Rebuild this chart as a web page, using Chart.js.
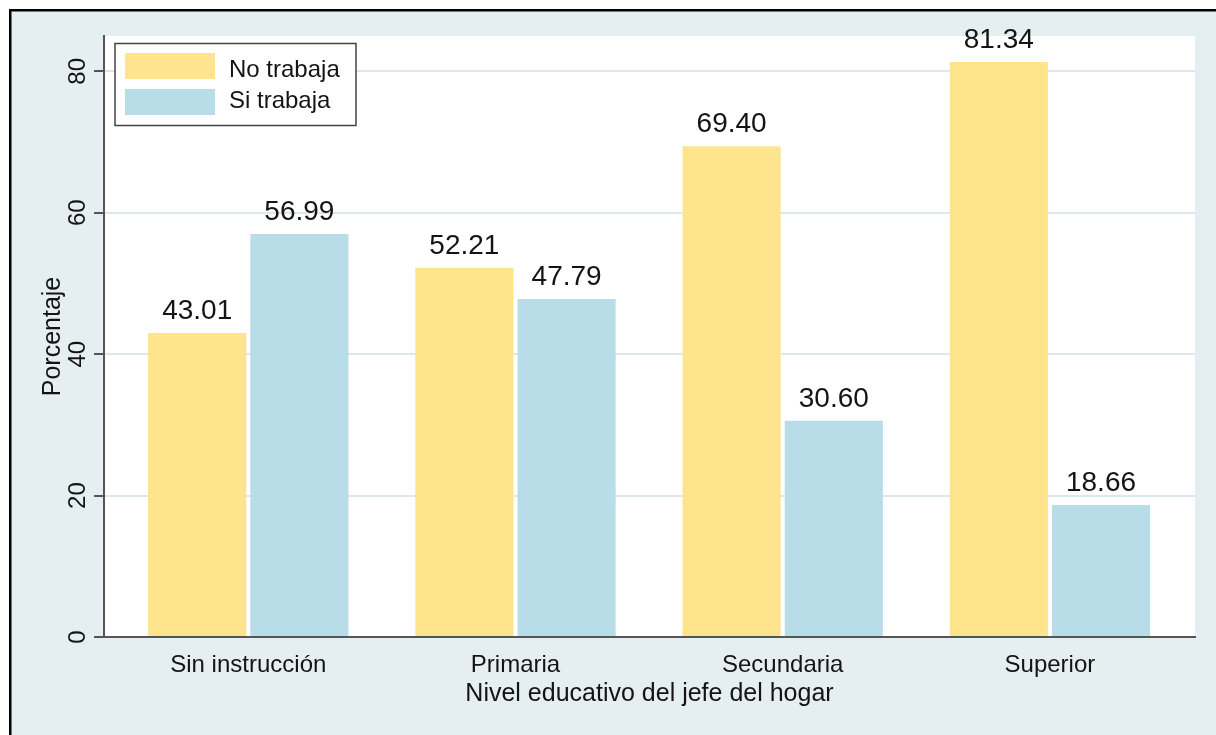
<!DOCTYPE html>
<html>
<head>
<meta charset="utf-8">
<script src="https://cdn.jsdelivr.net/npm/chart.js@4/dist/chart.umd.min.js"></script>
<style>
  body { margin: 0; background: #fff; }
  canvas { display: block; }
</style>
</head>
<body>
<canvas id="chart" width="1216" height="735"></canvas>
<script>
const categories = ['Sin instrucción', 'Primaria', 'Secundaria', 'Superior'];
const seriesNames = ['No trabaja', 'Si trabaja'];
const noTrabaja = [43.01, 52.21, 69.40, 81.34];
const siTrabaja = [56.99, 47.79, 30.60, 18.66];
const yTicks = [0, 20, 40, 60, 80];

const font = 'Liberation Sans, Arial, Helvetica, sans-serif';
const textColor = '#141414';
const axisColor = '#555';
const bgColor = '#e5eef0';
const gridColor = '#dde8ec';
const barColors = ['#fee48c', '#b8dce8'];

// outer frame, light backdrop and white plot region
const backdrop = {
  id: 'backdrop',
  beforeDraw (chart) {
    const ctx = chart.ctx;
    const a = chart.chartArea;
    ctx.save();
    ctx.fillStyle = '#fff';
    ctx.fillRect(0, 0, chart.width, chart.height);
    ctx.fillStyle = bgColor;
    ctx.fillRect(11, 11, chart.width, chart.height);
    ctx.fillStyle = '#000';
    ctx.fillRect(9, 9, chart.width, 2.5);
    ctx.fillRect(9, 9, 2.5, chart.height);
    ctx.fillStyle = '#fff';
    ctx.fillRect(a.left, a.top, a.right - a.left, a.bottom - a.top);
    ctx.restore();
  }
};

// rotated y tick labels, value labels and the boxed legend
const extras = {
  id: 'extras',
  afterDraw (chart) {
    const ctx = chart.ctx;
    const y = chart.scales.y;
    ctx.save();
    ctx.fillStyle = textColor;
    ctx.font = '24px ' + font;
    ctx.textAlign = 'center';
    ctx.textBaseline = 'alphabetic';
    y.ticks.forEach(t => {
      const py = y.getPixelForValue(t.value);
      ctx.save();
      ctx.translate(85, py);
      ctx.rotate(-Math.PI / 2);
      ctx.fillText(String(t.value), 0, 0);
      ctx.restore();
    });

    // values above bars
    ctx.font = '28px ' + font;
    chart.data.datasets.forEach((ds, i) => {
      const meta = chart.getDatasetMeta(i);
      meta.data.forEach((bar, j) => {
        ctx.fillText(ds.data[j].y.toFixed(2), bar.x, bar.y - 14);
      });
    });

    // legend
    ctx.fillStyle = '#fff';
    ctx.fillRect(115, 43, 241, 82);
    ctx.strokeStyle = '#444';
    ctx.lineWidth = 1.5;
    ctx.strokeRect(115, 43.5, 241, 82);
    ctx.font = '24px ' + font;
    ctx.textAlign = 'left';
    chart.data.datasets.forEach((ds, i) => {
      const top = 53 + i * 36;
      ctx.fillStyle = ds.backgroundColor;
      ctx.fillRect(125, top, 90, 26);
      ctx.fillStyle = textColor;
      ctx.fillText(ds.label, 229, [77, 108][i]);
    });
    ctx.restore();
  }
};

new Chart(document.getElementById('chart'), {
  type: 'bar',
  data: {
    datasets: [
      { label: seriesNames[0], data: noTrabaja.map((v, i) => ({x: i, y: v})), backgroundColor: barColors[0] },
      { label: seriesNames[1], data: siTrabaja.map((v, i) => ({x: i, y: v})), backgroundColor: barColors[1] }
    ]
  },
  plugins: [backdrop, extras],
  options: {
    responsive: false,
    animation: false,
    devicePixelRatio: 1,
    categoryPercentage: 0.765,
    barPercentage: 0.96,
    layout: {padding: {top: 36, right: 21, left: 0, bottom: 0}},
    plugins: {legend: {display: false}, tooltip: {enabled: false}},
    scales: {
      x: {
        type: 'linear',
        offset: false,
        min: -0.54,
        max: 3.543,
        afterBuildTicks: (axis) => {
          axis.ticks = [0, 1, 2, 3].map(v => ({value: v}));
        },
        afterFit: (axis) => { axis.height = 98; },
        grid: {display: false, drawTicks: false, offset: false},
        border: {display: true, color: axisColor, width: 2},
        ticks: {
          padding: 14,
          color: textColor,
          font: {family: font, size: 24},
          maxRotation: 0,
          callback: (v) => categories[v]
        },
        title: {
          display: true,
          text: 'Nivel educativo del jefe del hogar',
          color: textColor,
          font: {family: font, size: 25},
          padding: {top: 0, bottom: 26}
        }
      },
      y: {
        min: 0,
        max: 85,
        afterBuildTicks: (axis) => {
          axis.ticks = yTicks.map(v => ({value: v}));
        },
        afterFit: (axis) => { axis.width = 104; },
        grid: {
          color: (c) => c.tick && c.tick.value === 0 ? 'rgba(0,0,0,0)' : gridColor,
          lineWidth: 2,
          drawTicks: true,
          tickLength: 10,
          tickColor: axisColor,
          tickWidth: 2
        },
        border: {display: true, color: axisColor, width: 2},
        ticks: {display: false},
        title: {
          display: true,
          text: 'Porcentaje',
          color: textColor,
          font: {family: font, size: 25},
          padding: {top: 38, bottom: 0}
        }
      }
    }
  }
});
</script>
</body>
</html>
